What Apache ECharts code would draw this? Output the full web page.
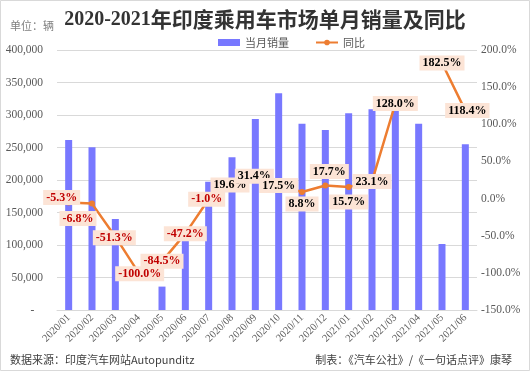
<!DOCTYPE html>
<html>
<head>
<meta charset="utf-8">
<script src="https://cdn.jsdelivr.net/npm/echarts@6/dist/echarts.min.js"></script>
<style>
html,body{margin:0;padding:0;background:#fff;}
#c{width:530px;height:371px;}
</style>
</head>
<body>
<div id="c"></div>
<script>
const categories = ['2020/01','2020/02','2020/03','2020/04','2020/05','2020/06','2020/07','2020/08','2020/09','2020/10','2020/11','2020/12','2021/01','2021/02','2021/03','2021/04','2021/05','2021/06'];
const monthlySales = [261500, 250300, 140000, 0, 36000, 120500, 197400, 234900, 293800, 333300, 286600, 276900, 302600, 308700, 306200, 286600, 101500, 254900];
const yoyGrowth = [-5.3, -6.8, -51.3, -100.0, -84.5, -47.2, -1.0, 19.6, 31.4, 17.5, 8.8, 17.7, 15.7, 23.1, 128.0, null, 182.5, 118.4];
const leftTicks = {min: 0, max: 400000, interval: 50000};
const rightTicks = {min: -150, max: 200, interval: 50};

// label placement (style only)
const labelOffsets = {0: [-7, -5], 1: [-14, 15], 2: [-1, 1], 3: [1, 1], 6: [-2, 0], 7: [-2, 1], 8: [-1, 1], 10: [0, 12], 11: [4, -14], 12: [0, 15], 17: [2, 0]};

const serif = '"Liberation Serif","Times New Roman",serif';
const cjk = '"Noto Sans CJK SC","Liberation Serif",serif';

const lineData = yoyGrowth.map((v, i) => {
  if (v === null) return null;
  return {value: v, label: {color: v < 0 ? '#C00000' : '#000000'}};
});

const chart = echarts.init(document.getElementById('c'), null, {renderer: 'canvas'});
chart.setOption({
  backgroundColor: '#ffffff',
  animation: false,
  title: {
    text: '{a|2020-2021}{b|年印度乘用车市场单月销量及同比}',
    left: 'center',
    top: 4,
    textStyle: {
      rich: {
        a: {fontFamily: serif, fontWeight: 'bold', fontSize: 20, color: '#333333'},
        b: {fontFamily: cjk, fontWeight: 'bold', fontSize: 21, color: '#333333'}
      }
    }
  },
  graphic: [
    {type: 'rect', shape: {x: 0.5, y: 0.5, width: 529, height: 370}, style: {fill: 'none', stroke: '#d9d9d9', lineWidth: 1}, silent: true},
    {type: 'text', left: 10, top: 20, style: {text: '单位：辆', font: '11px "Noto Sans CJK SC"', fill: '#7f7f7f'}},
    {type: 'text', left: 10, top: 354, style: {text: '数据来源：印度汽车网站Autopunditz', font: '11px "Noto Sans CJK SC"', fill: '#404040'}},
    {type: 'text', right: 18, top: 354, style: {text: '制表：《汽车公社》/《一句话点评》康琴', font: '11px "Noto Sans CJK SC"', fill: '#404040'}}
  ],
  legend: {
    left: 213,
    top: 32,
    itemGap: 26,
    itemWidth: 22,
    itemHeight: 7,
    textStyle: {fontFamily: cjk, fontSize: 11, color: '#595959'},
    data: [
      {name: '当月销量', icon: 'rect'},
      {name: '同比'}
    ]
  },
  grid: {left: 57, right: 53, top: 50, bottom: 61, containLabel: false},
  xAxis: {
    type: 'category',
    data: categories,
    axisTick: {show: false},
    axisLine: {lineStyle: {color: '#d9d9d9'}},
    axisLabel: {rotate: 45, interval: 0, fontFamily: serif, fontSize: 10.5, color: '#595959', margin: 6}
  },
  yAxis: [
    {
      type: 'value',
      min: leftTicks.min, max: leftTicks.max, interval: leftTicks.interval,
      axisLine: {show: false}, axisTick: {show: false},
      splitLine: {lineStyle: {color: '#d9d9d9'}},
      axisLabel: {
        fontFamily: serif, fontSize: 11.5, color: '#595959', margin: 14,
        formatter: v => v === 0 ? '-   ' : v.toLocaleString('en-US')
      }
    },
    {
      type: 'value',
      min: rightTicks.min, max: rightTicks.max, interval: rightTicks.interval,
      axisLine: {show: false}, axisTick: {show: false},
      splitLine: {show: false},
      axisLabel: {
        fontFamily: serif, fontSize: 11.5, color: '#595959', margin: 4,
        formatter: v => v.toFixed(1) + '%'
      }
    }
  ],
  series: [
    {
      name: '当月销量',
      type: 'bar',
      data: monthlySales,
      barWidth: 7,
      itemStyle: {color: '#7878FF'},
      yAxisIndex: 0
    },
    {
      name: '同比',
      type: 'line',
      yAxisIndex: 1,
      data: lineData,
      connectNulls: false,
      symbol: 'circle',
      symbolSize: 6,
      lineStyle: {color: '#ED7D31', width: 2.5},
      itemStyle: {color: '#ED7D31'},
      label: {
        show: true,
        position: 'inside',
        fontFamily: serif,
        fontWeight: 'bold',
        fontSize: 12,
        backgroundColor: '#FCE4D6',
        padding: [2, 3, 1, 3],
        formatter: p => p.value.toFixed(1) + '%'
      },
      labelLayout: p => {
        const off = labelOffsets[p.dataIndex] || [0, 0];
        return {dx: off[0], dy: off[1], hideOverlap: false};
      },
      z: 3
    }
  ]
});
</script>
</body>
</html>
